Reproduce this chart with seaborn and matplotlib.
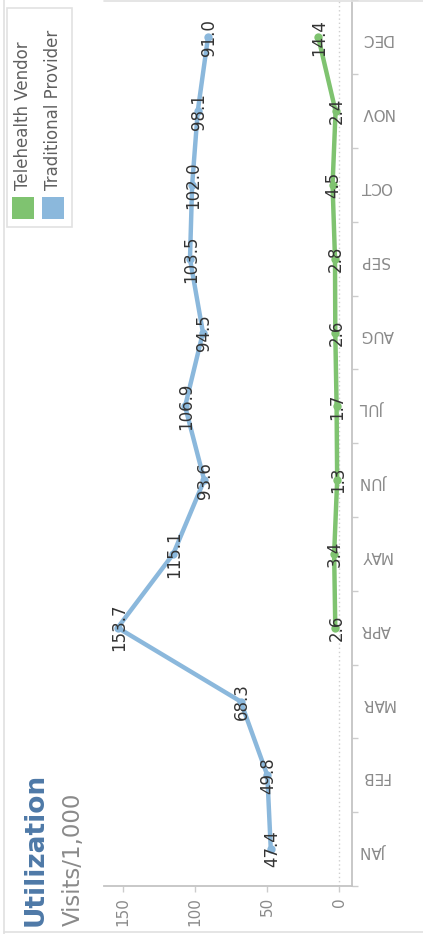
import numpy as np
import pandas as pd
import matplotlib
matplotlib.use("Agg")
import matplotlib.pyplot as plt
from matplotlib.patches import Rectangle
from matplotlib.lines import Line2D
import seaborn as sns

# ---- data ----
months = ["JAN", "FEB", "MAR", "APR", "MAY", "JUN",
          "JUL", "AUG", "SEP", "OCT", "NOV", "DEC"]
traditional = [47.4, 49.8, 68.3, 153.7, 115.1, 93.6,
               106.9, 94.5, 103.5, 102.0, 98.1, 91.0]
telehealth = [np.nan, np.nan, np.nan, 2.6, 3.4, 1.3,
              1.7, 2.6, 2.8, 4.5, 2.4, 14.4]
series_names = ["Telehealth Vendor", "Traditional Provider"]
series_colors = ["#7fc370", "#8bb8dc"]
value_ticks = [0, 50, 100, 150]
value_tick_labels = ["0", "50", "100", "150"]
title = "Utilization"
subtitle = "Visits/1,000"

rows = []
for name, vals in zip(series_names, [telehealth, traditional]):
    for i, v in enumerate(vals):
        if not np.isnan(v):
            rows.append({"series": name, "month_idx": i, "value": v})
df = pd.DataFrame(rows)

sns.set_style("white")
plt.rcParams["font.family"] = ["DejaVu Sans"]

W, H = 423, 934
fig = plt.figure(figsize=(W / 100, H / 100), dpi=100)
ax = fig.add_axes([104 / W, 48 / H, 248 / W, 885.5 / H])

sns.lineplot(data=df, x="value", y="month_idx", hue="series",
             hue_order=series_names, palette=series_colors, orient="y",
             estimator=None, sort=True, marker="o", markersize=6,
             markeredgewidth=0, linewidth=3.2, legend=False, ax=ax)

ax.axvline(0, color="#cfcfcf", linestyle=(0, (1, 2)), linewidth=1, zorder=0)

for _, r in df.iterrows():
    ax.annotate(f"{r['value']:.1f}", (r["value"], r["month_idx"]),
                xytext=(1, 0), textcoords="offset pixels", rotation=90,
                ha="center", va="center", fontsize=12, color="#333333")

ax.set_xlim(163.2, -9.0)
ax.set_ylim(-0.5, 11.5)

ax.set_xticks(value_ticks)
ax.set_xticklabels(value_tick_labels, rotation=90)
ax.tick_params(axis="x", which="major", direction="out", length=4,
               width=1, color="#cccccc", labelcolor="#8a8a8a",
               labelsize=11, pad=4, bottom=True)

ax.yaxis.tick_right()
ax.set_yticks(range(len(months)))
ax.set_yticklabels(months)
ax.tick_params(axis="y", which="major", length=0, pad=6, labelrotation=180,
               labelcolor="#8a8a8a", labelsize=11)
ax.set_yticks(np.arange(-0.5, 11.6, 1.0), minor=True)
ax.tick_params(axis="y", which="minor", direction="out", length=4.5,
               width=1, color="#cccccc", right=True, left=False)

for s in ["left", "top"]:
    ax.spines[s].set_visible(False)
for s in ["right", "bottom"]:
    ax.spines[s].set_visible(True)
    ax.spines[s].set_color("#c4c4c4")
    ax.spines[s].set_linewidth(1.3)
ax.set_xlabel("")
ax.set_ylabel("")

# title / subtitle
fig.text(36 / W, 1 - 926 / H, title, rotation=90, ha="center", va="bottom",
         fontsize=19, fontweight="bold", color="#4e79a7")
fig.text(73 / W, 1 - 926 / H, subtitle, rotation=90, ha="center", va="bottom",
         fontsize=16.5, color="#8a8a8a")

# legend (drawn manually, rotated)
fig.patches.append(Rectangle((7 / W, 1 - 227 / H), 65 / W, 219 / H,
                             transform=fig.transFigure, facecolor="white",
                             edgecolor="#e2e2e2", linewidth=1.2))
for k, (name, col) in enumerate(zip(series_names, series_colors)):
    x0 = 12 + 30 * k
    fig.patches.append(Rectangle((x0 / W, 1 - 219 / H), 22 / W, 22 / H,
                                 transform=fig.transFigure, facecolor=col,
                                 edgecolor="none"))
    fig.text((x0 + 11) / W, 1 - 190 / H, name, rotation=90, ha="center",
             va="bottom", fontsize=12, color="#606060")

# outer border lines
fig.lines.append(Line2D([4 / W, 4 / W], [0, 1], transform=fig.transFigure,
                        color="#e0e0e0", linewidth=1.2))
fig.lines.append(Line2D([4 / W, 1], [1 - 932 / H, 1 - 932 / H],
                        transform=fig.transFigure, color="#e0e0e0",
                        linewidth=1.2))
fig.lines.append(Line2D([104 / W, 1], [1 - 0.8 / H, 1 - 0.8 / H],
                        transform=fig.transFigure, color="#e0e0e0",
                        linewidth=1.2))

fig.savefig("out.png", dpi=100)
